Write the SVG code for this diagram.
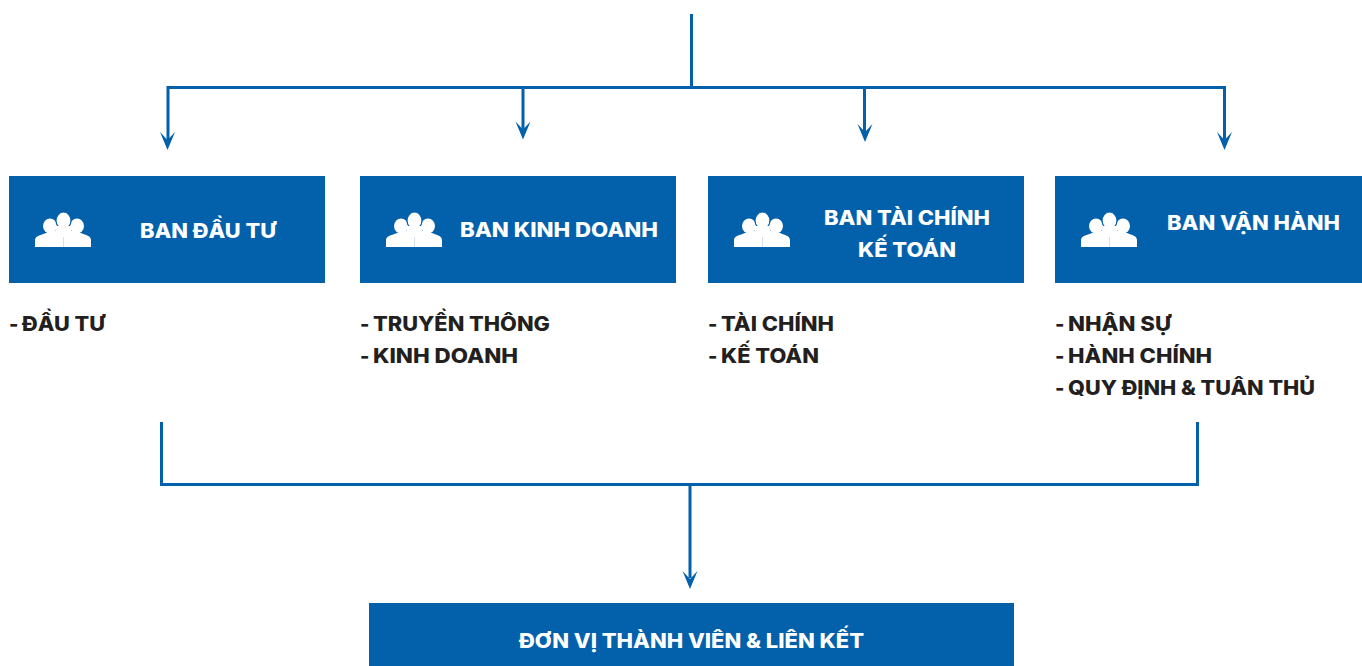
<svg xmlns="http://www.w3.org/2000/svg" width="1362" height="666" viewBox="0 0 1362 666">
<style>
.box{fill:#0361ac}
.w{fill:#fff;font:800 20px Inter,"Noto Sans",sans-serif}
.d{fill:#231f20;font:800 20px Inter,"Noto Sans",sans-serif}
.c{fill:none;stroke:#0361ac;stroke-width:3}
.sep{stroke:#c9d9ea;stroke-width:.8}
.p{fill:#fff}
</style>
<defs>
<path id="ah" class="box" d="M-7.500 -18 L0 -10 L7.500 -18 L0 0Z"/>
<g id="people">
<ellipse class="p" cx="-13" cy="-6" rx="7" ry="7.500"/><ellipse class="p" cx="14" cy="-6" rx="7" ry="7.500"/>
<path class="p" d="M-28 15 V8 C-28 4 -22 3 -17 1 L-8 -1 C-6 -2 -6 -4 -6 -6 H7 C7 -4 7 -2 9 -1 L18 1 C23 3 28 4 28 8 V15Z"/>
<ellipse class="p" cx="0.500" cy="-11.500" rx="7.500" ry="8.500" stroke="#0361ac" stroke-width="1.200"/>
<path class="p" d="M-7 -6 L8 -6 L8 3 L-7 3Z"/>
<path class="sep" d="M0.500 5V15"/>
</g>
</defs>
<g id="connectors">
<path class="c" d="M691.5 14V87.5M168 140V87.5H1224.500V140M523 130V87.500M864.500 132V87.500"/>
<use href="#ah" x="167.500" y="150"/><use href="#ah" x="523" y="139.500"/><use href="#ah" x="865" y="142"/><use href="#ah" x="1224.500" y="150"/>
<path class="c" d="M161.500 422V484.500H1197.500V422M690 484.500V578"/>
<use href="#ah" x="690" y="589"/>
</g>
<g id="node-dau-tu"><rect class="box" x="9" y="176" width="316" height="107"/><use href="#people" x="63" y="232"/>
<text class="w" x="140" y="238" textLength="136" lengthAdjust="spacingAndGlyphs">BAN ĐẦU TƯ</text></g>
<g id="node-kinh-doanh"><rect class="box" x="360" y="176" width="316" height="107"/><use href="#people" x="414" y="232"/>
<text class="w" x="460" y="237" textLength="198" lengthAdjust="spacingAndGlyphs">BAN KINH DOANH</text></g>
<g id="node-tai-chinh"><rect class="box" x="708" y="176" width="316" height="107"/><use href="#people" x="762" y="232"/>
<text class="w" x="824" y="225" textLength="166" lengthAdjust="spacingAndGlyphs">BAN TÀI CHÍNH</text>
<text class="w" x="858" y="257" textLength="98" lengthAdjust="spacingAndGlyphs">KẾ TOÁN</text></g>
<g id="node-van-hanh"><rect class="box" x="1055" y="176" width="307" height="107"/><use href="#people" x="1109" y="232"/>
<text class="w" x="1167" y="230" textLength="173" lengthAdjust="spacingAndGlyphs">BAN VẬN HÀNH</text></g>
<g id="list-dau-tu"><text class="d" x="9" y="331">-</text><text class="d" x="22" y="331" textLength="83" lengthAdjust="spacingAndGlyphs">ĐẦU TƯ</text></g>
<g id="list-kinh-doanh"><text class="d" x="360" y="331">-</text><text class="d" x="373" y="331" textLength="177" lengthAdjust="spacingAndGlyphs">TRUYỀN THÔNG</text>
<text class="d" x="360" y="363">-</text><text class="d" x="373" y="363" textLength="145" lengthAdjust="spacingAndGlyphs">KINH DOANH</text></g>
<g id="list-tai-chinh"><text class="d" x="708" y="331">-</text><text class="d" x="721" y="331" textLength="113" lengthAdjust="spacingAndGlyphs">TÀI CHÍNH</text>
<text class="d" x="708" y="363">-</text><text class="d" x="721" y="363" textLength="98" lengthAdjust="spacingAndGlyphs">KẾ TOÁN</text></g>
<g id="list-van-hanh"><text class="d" x="1055" y="331">-</text><text class="d" x="1068" y="331" textLength="103" lengthAdjust="spacingAndGlyphs">NHẬN SỰ</text>
<text class="d" x="1055" y="363">-</text><text class="d" x="1068" y="363" textLength="144" lengthAdjust="spacingAndGlyphs">HÀNH CHÍNH</text>
<text class="d" x="1055" y="395">-</text><text class="d" x="1068" y="395" textLength="247" lengthAdjust="spacingAndGlyphs">QUY ĐỊNH &amp; TUÂN THỦ</text></g>
<g id="node-don-vi"><rect class="box" x="369" y="603" width="645" height="63"/>
<text class="w" x="519" y="648" textLength="345" lengthAdjust="spacingAndGlyphs">ĐƠN VỊ THÀNH VIÊN &amp; LIÊN KẾT</text></g>
</svg>
